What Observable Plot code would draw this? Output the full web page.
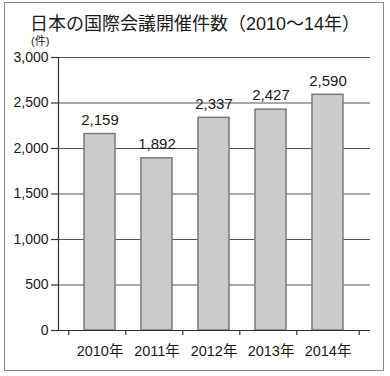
<!DOCTYPE html>
<html>
<head>
<meta charset="utf-8">
<script src="https://cdn.jsdelivr.net/npm/d3@7"></script>
<script src="https://cdn.jsdelivr.net/npm/@observablehq/plot@0.6"></script>
<style>
  html, body { margin: 0; padding: 0; background: #fff; }
  #wrap { position: relative; width: 390px; height: 376px; overflow: hidden; font-family: "Liberation Sans", "Noto Sans CJK JP", sans-serif; }
  #frame { position: absolute; left: 4px; top: 2px; width: 380px; height: 369px; border: 1px solid #8a8a8a; box-sizing: border-box; }
  #title { position: absolute; left: 0; width: 390px; top: 14px; text-align: center; font-size: 18px; color: #1a1a1a; line-height: 20px; white-space: nowrap; }
  #unit { position: absolute; left: 31px; top: 35px; font-size: 11px; color: #1a1a1a; line-height: 13px; }
  #chart { position: absolute; left: 0; top: 0; }
</style>
</head>
<body>
<div id="wrap">
  <div id="frame"></div>
  <div id="chart"></div>
  <div id="title">日本の国際会議開催件数（2010～14年）</div>
  <div id="unit">(件)</div>
</div>
<script>
const years = ["2010年", "2011年", "2012年", "2013年", "2014年"];
const counts = [2159, 1892, 2337, 2427, 2590];
const yTicks = [0, 500, 1000, 1500, 2000, 2500, 3000];

const data = years.map((y, i) => ({year: y, count: counts[i]}));
const fmt = d3.format(",");

const W = 390, H = 376, mL = 58, mR = 20;
const halfBand = (W - mL - mR) / years.length / 2;

const plot = Plot.plot({
  width: W,
  height: H,
  marginLeft: mL,
  marginRight: mR,
  marginTop: 57,
  marginBottom: 46,
  style: {fontFamily: "'Liberation Sans', 'Noto Sans CJK JP', sans-serif", color: "#1a1a1a", background: "transparent", overflow: "visible"},
  x: {domain: years, padding: 0.45, align: 0.5},
  y: {domain: [0, 3000]},
  marks: [
    Plot.ruleY(yTicks.filter(d => d > 0), {stroke: "#555", strokeWidth: 1.2}),
    Plot.barY(data, {x: "year", y: "count", fill: "#cbcbcb", stroke: "#7a7a7a", strokeWidth: 1.5}),
    Plot.text(data, {x: "year", y: "count", text: d => fmt(d.count), dy: -14, fontSize: 15, fill: "#1a1a1a"}),
    Plot.axisY({ticks: yTicks, tickFormat: fmt, tickSize: 7, tickPadding: 3, fontSize: 14, stroke: "#333", strokeWidth: 1.2, label: null}),
    Plot.axisX({tickSize: 0, tickPadding: 15, fontSize: 14.5, label: null}),
    Plot.axisX({tickSize: 5, text: null, dx: -halfBand, stroke: "#333", strokeWidth: 1.2, label: null}),
    Plot.axisX({ticks: [years[years.length - 1]], tickSize: 5, text: null, dx: halfBand, stroke: "#333", strokeWidth: 1.2, label: null}),
    Plot.ruleY([0], {stroke: "#333", strokeWidth: 1.2}),
    Plot.frame({anchor: "left", stroke: "#333", strokeWidth: 1.2})
  ]
});
document.getElementById("chart").appendChild(plot);
</script>
</body>
</html>
